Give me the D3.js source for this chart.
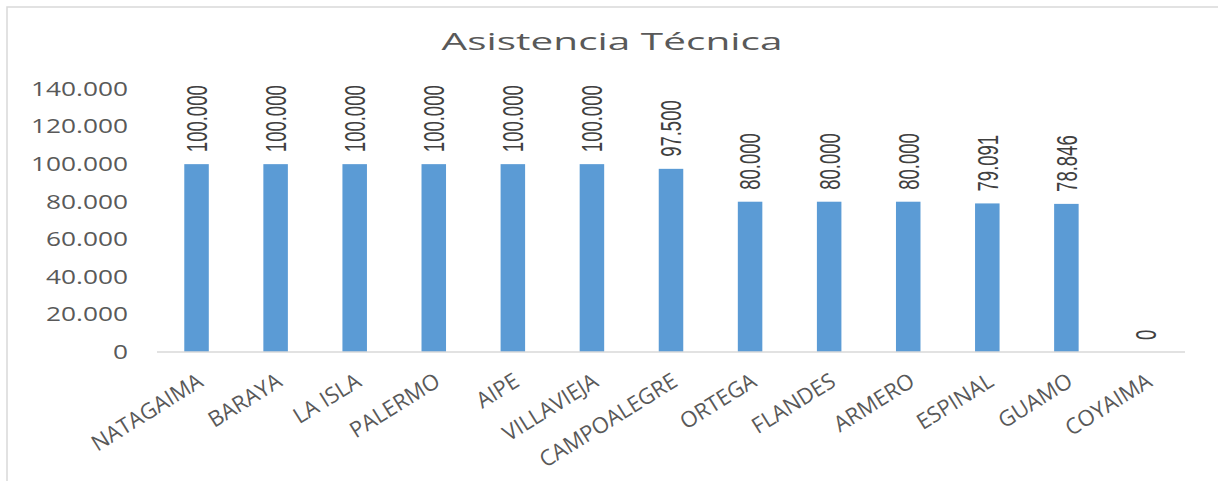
<!DOCTYPE html>
<html>

<head>
    <meta charset="utf-8">
    <style type="text/css">
    html,
    body {
        margin: 0px;
        padding: 0px;
        background: #fff;
    }

    .frame {
        fill: none;
        stroke: #d9d9d9;
        stroke-width: 1.5px;
    }

    .baseline {
        stroke: #d9d9d9;
        stroke-width: 1.5px;
    }

    .bar {
        fill: #5b9bd5;
    }

    .title {
        font-family: 'Open Sans', sans-serif;
        font-size: 24px;
        fill: #595959;
    }

    .ylabel {
        font-family: 'Open Sans', sans-serif;
        font-size: 19.6px;
        fill: #595959;
    }

    .xlabel {
        font-family: 'Open Sans', sans-serif;
        font-size: 22px;
        fill: #595959;
    }

    .value {
        font-family: 'Liberation Sans', Arial, sans-serif;
        font-size: 18.5px;
        fill: #404040;
    }
    </style>
    <script src="https://d3js.org/d3.v7.min.js"></script>
    <title>Asistencia Técnica</title>
</head>

<body>
</body>
<script type="text/javascript">
// data
var categories = ["NATAGAIMA", "BARAYA", "LA ISLA", "PALERMO", "AIPE", "VILLAVIEJA",
    "CAMPOALEGRE", "ORTEGA", "FLANDES", "ARMERO", "ESPINAL", "GUAMO", "COYAIMA"];
var values = [100000, 100000, 100000, 100000, 100000, 100000,
    97500, 80000, 80000, 80000, 79091, 78846, 0];
var yTicks = [0, 20000, 40000, 60000, 80000, 100000, 120000, 140000];
var chartTitle = "Asistencia Técnica";

var width = 1218;
var height = 481;

// spanish style number: 100.000
var locale = d3.formatLocale({ decimal: ",", thousands: ".", grouping: [3], currency: ["$", ""] });
var fmt = locale.format(",.0f");

var svg = d3.select("body")
    .append("svg")
    .attr("width", width)
    .attr("height", height);

// light frame round the chart area (cut off right and bottom)
svg.append("rect")
    .attr("class", "frame")
    .attr("x", 7)
    .attr("y", 7)
    .attr("width", 1240)
    .attr("height", 520);

var x = d3.scaleBand()
    .domain(categories)
    .range([157, 1185])
    .paddingInner(0.69)
    .paddingOuter(0.345);

var y = d3.scaleLinear()
    .domain([0, 140000])
    .range([352, 89]);

// title
svg.append("text")
    .attr("class", "title")
    .attr("text-anchor", "middle")
    .attr("transform", "translate(612,50) scale(1.69,1)")
    .text(chartTitle);

// y axis labels, no line
svg.selectAll(".ylabel")
    .data(yTicks)
    .enter()
    .append("text")
    .attr("class", "ylabel")
    .attr("text-anchor", "end")
    .attr("dy", "0.35em")
    .attr("transform", function(d) {
        return "translate(128," + y(d) + ") scale(1.34,1)";
    })
    .text(fmt);

// bars
svg.selectAll(".bar")
    .data(values)
    .enter()
    .append("rect")
    .attr("class", "bar")
    .attr("x", function(d, i) { return x(categories[i]); })
    .attr("width", x.bandwidth())
    .attr("y", function(d) { return y(d); })
    .attr("height", function(d) { return y(0) - y(d); });

// category baseline
svg.append("line")
    .attr("class", "baseline")
    .attr("x1", x.range()[0])
    .attr("x2", x.range()[1])
    .attr("y1", y(0))
    .attr("y2", y(0));

// value labels, vertical
svg.selectAll(".value")
    .data(values)
    .enter()
    .append("text")
    .attr("class", "value")
    .attr("dy", "0.35em")
    .attr("transform", function(d, i) {
        var cx = x(categories[i]) + x.bandwidth() / 2;
        return "translate(" + cx + "," + (y(d) - 12) + ") scale(1.6,1) rotate(-90)";
    })
    .text(fmt);

// category labels, slanted
svg.selectAll(".xlabel")
    .data(categories)
    .enter()
    .append("text")
    .attr("class", "xlabel")
    .attr("text-anchor", "end")
    .attr("transform", function(d) {
        var cx = x(d) + x.bandwidth() / 2;
        return "translate(" + (cx + 8) + ",385) rotate(-32)";
    })
    .text(function(d) { return d; });
</script>

</html>
